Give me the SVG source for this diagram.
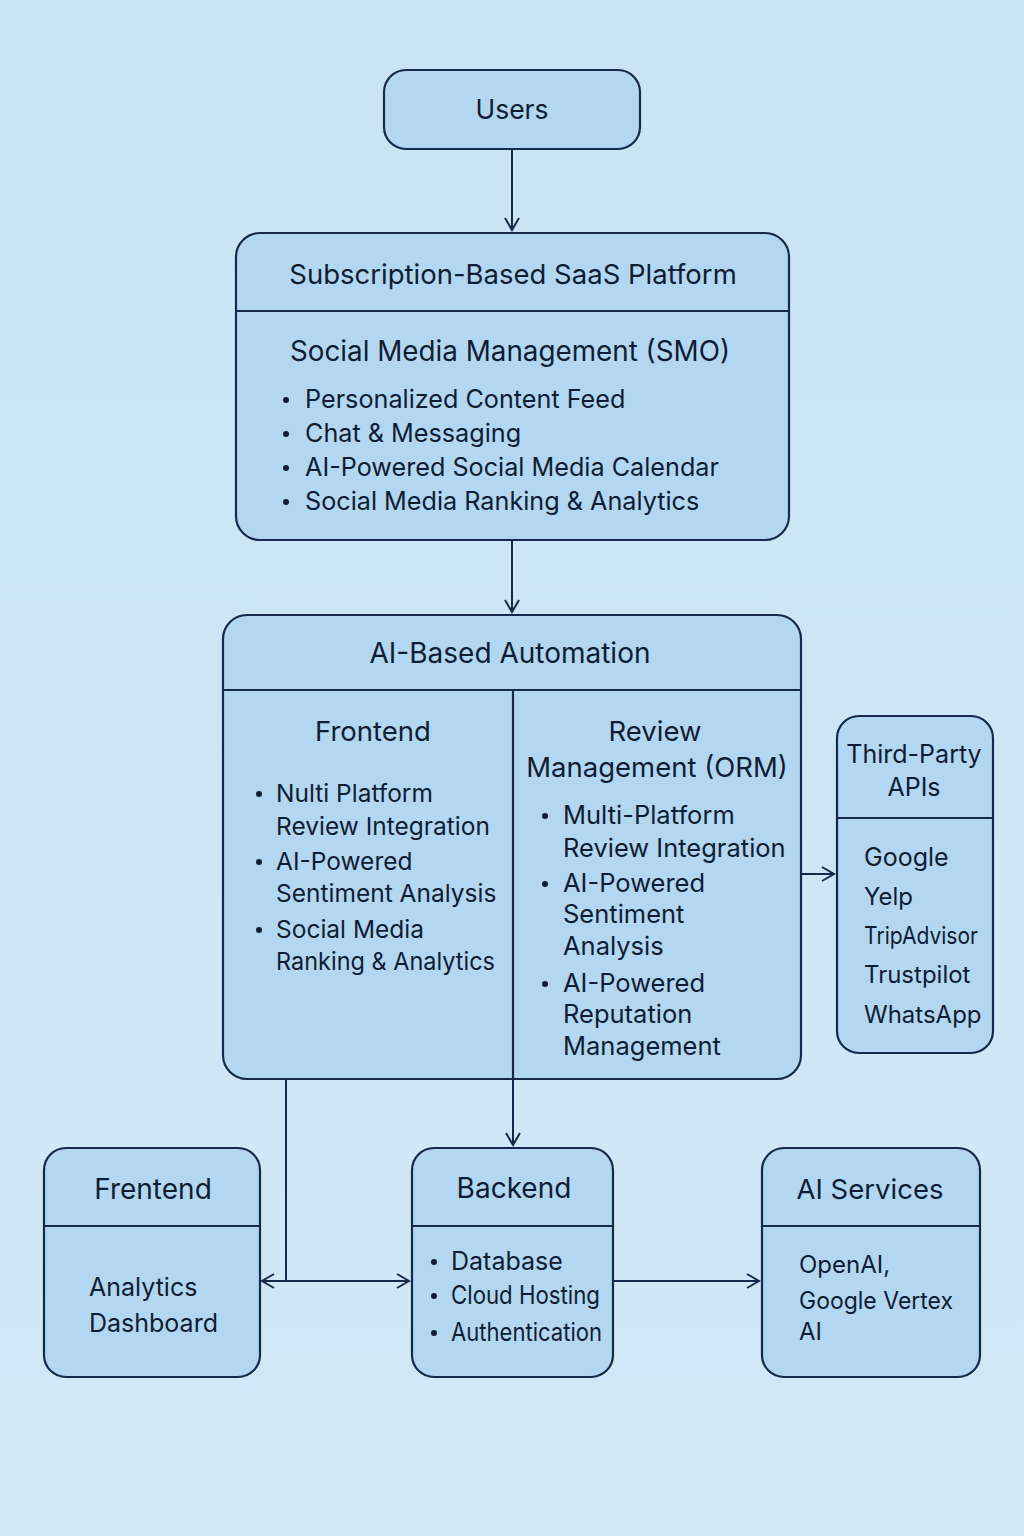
<svg xmlns="http://www.w3.org/2000/svg" width="1024" height="1536" viewBox="0 0 1024 1536">
<defs>
<linearGradient id="bg" x1="0" y1="0" x2="0" y2="1">
<stop offset="0" stop-color="#c8e4f5"/>
<stop offset="1" stop-color="#d0e9f7"/>
</linearGradient>
<marker id="arr" viewBox="0 0 16 16" refX="14" refY="8" markerWidth="16" markerHeight="16" markerUnits="userSpaceOnUse" orient="auto-start-reverse">
<path d="M2,1 L14,8 L2,15" fill="none" stroke="#17294a" stroke-width="2"/>
</marker>
<style>
.box{fill:#b3d7f1;stroke:#17294a;stroke-width:2.2}
.div{stroke:#17294a;stroke-width:2.2;fill:none}
.t{font-family:Inter,"Liberation Sans",sans-serif;fill:#0f1d33}
.h{font-size:27.5px;text-anchor:middle}
.b{font-size:24.5px}
.b2{font-size:25.5px}
.c{fill:none;stroke:#17294a;stroke-width:2}
</style>
</defs>
<rect width="1024" height="1536" fill="url(#bg)"/>

<g id="users">
<rect class="box" x="384" y="70" width="256" height="79" rx="22"/>
<text class="t h" x="512" y="119" style="font-size:26.5px">Users</text>
</g>

<g id="saas">
<rect class="box" x="236" y="233" width="553" height="307" rx="24"/>
<line class="div" x1="236" y1="311" x2="789" y2="311"/>
<text class="t h" x="513" y="284">Subscription-Based SaaS Platform</text>
<text class="t h" x="510" y="361" style="font-size:27.8px">Social Media Management (SMO)</text>
<g class="t" style="font-size:25.2px">
<circle cx="286" cy="400" r="3"/><text x="305" y="408">Personalized Content Feed</text>
<circle cx="286" cy="434" r="3"/><text x="305" y="442">Chat &amp; Messaging</text>
<circle cx="286" cy="468" r="3"/><text x="305" y="476">AI-Powered Social Media Calendar</text>
<circle cx="286" cy="502" r="3"/><text x="305" y="510">Social Media Ranking &amp; Analytics</text>
</g>
</g>

<g id="automation">
<rect class="box" x="223" y="615" width="578" height="464" rx="24"/>
<line class="div" x1="223" y1="690" x2="801" y2="690"/>
<line class="div" x1="513" y1="690" x2="513" y2="1079"/>
<text class="t h" x="510" y="663" style="font-size:28px">AI-Based Automation</text>
<text class="t h" x="373" y="741">Frontend</text>
<g class="t b">
<circle cx="259" cy="794" r="3"/><text x="276" y="802">Nulti Platform</text>
<text x="276" y="835">Review Integration</text>
<circle cx="259" cy="862" r="3"/><text x="276" y="870">AI-Powered</text>
<text x="276" y="902">Sentiment Analysis</text>
<circle cx="259" cy="930" r="3"/><text x="276" y="938">Social Media</text>
<text x="276" y="970" textLength="219" lengthAdjust="spacingAndGlyphs">Ranking &amp; Analytics</text>
</g>
<text class="t h" x="655" y="741">Review</text>
<text class="t h" x="657" y="777">Management (ORM)</text>
<g class="t b2">
<circle cx="545" cy="816" r="3"/><text x="563" y="824">Multi-Platform</text>
<text x="563" y="857">Review Integration</text>
<circle cx="545" cy="884" r="3"/><text x="563" y="892">AI-Powered</text>
<text x="563" y="923">Sentiment</text>
<text x="563" y="955">Analysis</text>
<circle cx="545" cy="984" r="3"/><text x="563" y="992">AI-Powered</text>
<text x="563" y="1023">Reputation</text>
<text x="563" y="1055">Management</text>
</g>
</g>

<g id="thirdparty">
<rect class="box" x="837" y="716" width="156" height="337" rx="22"/>
<line class="div" x1="837" y1="818" x2="993" y2="818"/>
<text class="t h" x="914" y="763" style="font-size:25px">Third-Party</text>
<text class="t h" x="914" y="796" style="font-size:25px">APIs</text>
<g class="t" style="font-size:24px">
<text x="864" y="866" style="font-size:25px">Google</text>
<text x="864" y="905">Yelp</text>
<text x="864" y="944" textLength="114" lengthAdjust="spacingAndGlyphs">TripAdvisor</text>
<text x="864" y="983">Trustpilot</text>
<text x="864" y="1023">WhatsApp</text>
</g>
</g>

<g id="frentend">
<rect class="box" x="44" y="1148" width="216" height="229" rx="22"/>
<line class="div" x1="44" y1="1226" x2="260" y2="1226"/>
<text class="t h" x="153" y="1199" style="font-size:28px">Frentend</text>
<g class="t" style="font-size:25px">
<text x="89" y="1296">Analytics</text>
<text x="89" y="1332">Dashboard</text>
</g>
</g>

<g id="backend">
<rect class="box" x="412" y="1148" width="201" height="229" rx="22"/>
<line class="div" x1="412" y1="1226" x2="613" y2="1226"/>
<text class="t h" x="514" y="1198" style="font-size:28px">Backend</text>
<g class="t" style="font-size:25px">
<circle cx="434" cy="1262" r="3"/><text x="451" y="1270">Database</text>
<circle cx="434" cy="1296" r="3"/><text x="451" y="1304" textLength="149" lengthAdjust="spacingAndGlyphs">Cloud Hosting</text>
<circle cx="434" cy="1333" r="3"/><text x="451" y="1341" textLength="151" lengthAdjust="spacingAndGlyphs">Authentication</text>
</g>
</g>

<g id="aiservices">
<rect class="box" x="762" y="1148" width="218" height="229" rx="22"/>
<line class="div" x1="762" y1="1226" x2="980" y2="1226"/>
<text class="t h" x="870" y="1199" style="font-size:27.5px">AI Services</text>
<g class="t" style="font-size:24px">
<text x="799" y="1273">OpenAI,</text>
<text x="799" y="1309" textLength="154" lengthAdjust="spacingAndGlyphs">Google Vertex</text>
<text x="799" y="1340">AI</text>
</g>
</g>

<g id="connectors">
<line class="c" x1="512" y1="149" x2="512" y2="230" marker-end="url(#arr)"/>
<line class="c" x1="512" y1="540" x2="512" y2="612" marker-end="url(#arr)"/>
<line class="c" x1="801" y1="874" x2="834" y2="874" marker-end="url(#arr)"/>
<line class="c" x1="513" y1="1079" x2="513" y2="1145" marker-end="url(#arr)"/>
<line class="c" x1="286" y1="1079" x2="286" y2="1281"/>
<line class="c" x1="262" y1="1281" x2="409" y2="1281" marker-start="url(#arr)" marker-end="url(#arr)"/>
<line class="c" x1="613" y1="1281" x2="759" y2="1281" marker-end="url(#arr)"/>
</g>
</svg>
